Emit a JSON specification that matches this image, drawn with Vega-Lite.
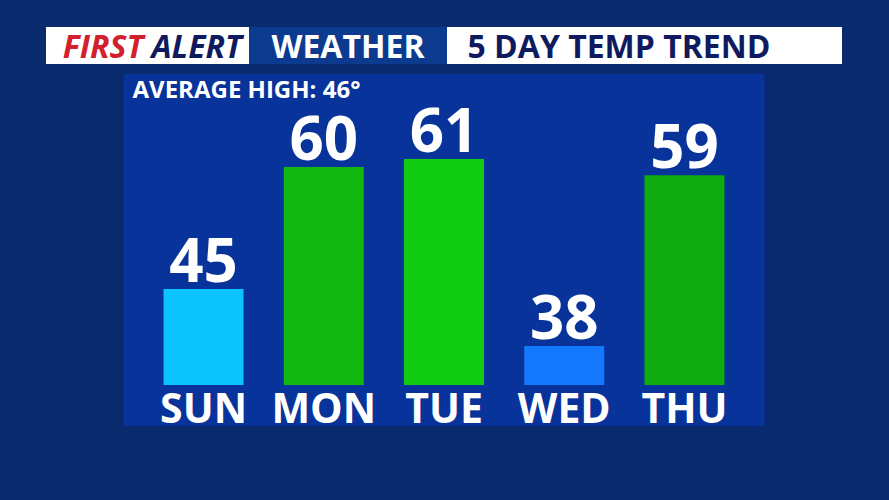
{
  "$schema": "https://vega.github.io/schema/vega-lite/v6.json",
  "background": "#0a2a6e",
  "padding": {"left": 46, "top": 27, "right": 47, "bottom": 74},
  "config": {"view": {"stroke": null}, "font": "Open Sans"},
  "datasets": {
    "forecast": [
      {"day": "SUN", "high": 45},
      {"day": "MON", "high": 60},
      {"day": "TUE", "high": 61},
      {"day": "WED", "high": 38},
      {"day": "THU", "high": 59}
    ]
  },
  "vconcat": [
    {
      "hconcat": [
        {
          "width": 203,
          "height": 37,
          "view": {"fill": "white", "stroke": null},
          "data": {"values": [{"w1": "FIRST", "w2": "ALERT"}]},
          "layer": [
            {
              "mark": {"type": "text", "align": "right", "baseline": "alphabetic", "dx": -4, "dy": 12, "font": "Open Sans", "fontWeight": "bold", "fontStyle": "italic", "fontSize": 32, "color": "#d2202e"},
              "encoding": {"text": {"field": "w1"}}
            },
            {
              "mark": {"type": "text", "align": "left", "baseline": "alphabetic", "dx": 4, "dy": 12, "font": "Open Sans", "fontWeight": "bold", "fontStyle": "italic", "fontSize": 32, "color": "#101a5e"},
              "encoding": {"text": {"field": "w2"}}
            }
          ]
        },
        {
          "width": 198,
          "height": 37,
          "view": {"fill": "#0b3a8f", "stroke": null},
          "data": {"values": [{"t": "WEATHER"}]},
          "mark": {"type": "text", "align": "center", "baseline": "alphabetic", "dy": 12, "font": "Open Sans", "fontWeight": "bold", "fontSize": 32, "color": "white"},
          "encoding": {"text": {"field": "t"}}
        },
        {
          "width": 395,
          "height": 37,
          "view": {"fill": "white", "stroke": null},
          "data": {"values": [{"t": "5 DAY TEMP TREND"}]},
          "mark": {"type": "text", "align": "left", "baseline": "alphabetic", "dx": -177, "dy": 12, "font": "Open Sans", "fontWeight": "bold", "fontSize": 32, "color": "#101a5e"},
          "encoding": {"text": {"field": "t"}}
        }
      ],
      "spacing": 0
    },
    {
      "width": 641,
      "height": 352,
      "view": {"fill": "#07339a", "stroke": null},
      "layer": [
        {
          "data": {"name": "forecast"},
          "mark": {"type": "bar"},
          "encoding": {
            "x": {"field": "day", "type": "nominal", "sort": null, "axis": null, "scale": {"paddingInner": 0.335, "paddingOuter": 0.333}},
            "y": {"field": "high", "type": "quantitative", "axis": null, "scale": {"domain": [28.16, 71.45], "zero": false, "nice": false}},
            "y2": {"datum": 33.2},
            "color": {"field": "day", "type": "nominal", "legend": null, "scale": {"domain": ["SUN", "MON", "TUE", "WED", "THU"], "range": ["#0cc4fc", "#10b810", "#10cc10", "#1478fc", "#0eac0e"]}}
          }
        },
        {
          "data": {"name": "forecast"},
          "mark": {"type": "text", "baseline": "alphabetic", "dy": -7, "font": "Open Sans", "fontWeight": "bold", "fontSize": 60, "color": "white"},
          "encoding": {
            "x": {"field": "day", "type": "nominal", "sort": null},
            "y": {"field": "high", "type": "quantitative"},
            "text": {"field": "high", "type": "quantitative"}
          }
        },
        {
          "data": {"name": "forecast"},
          "mark": {"type": "text", "baseline": "alphabetic", "font": "Open Sans", "fontWeight": "bold", "fontSize": 41, "color": "white"},
          "encoding": {
            "x": {"field": "day", "type": "nominal", "sort": null},
            "y": {"datum": 28.53},
            "text": {"field": "day"}
          }
        },
        {
          "data": {"values": [{"label": "AVERAGE HIGH: 46°"}]},
          "mark": {"type": "text", "align": "left", "baseline": "alphabetic", "dx": -311.5, "font": "Open Sans", "fontWeight": "bold", "fontSize": 24, "color": "white"},
          "encoding": {
            "y": {"datum": 68.5},
            "text": {"field": "label"}
          }
        }
      ]
    }
  ],
  "spacing": 10,
  "center": true
}
